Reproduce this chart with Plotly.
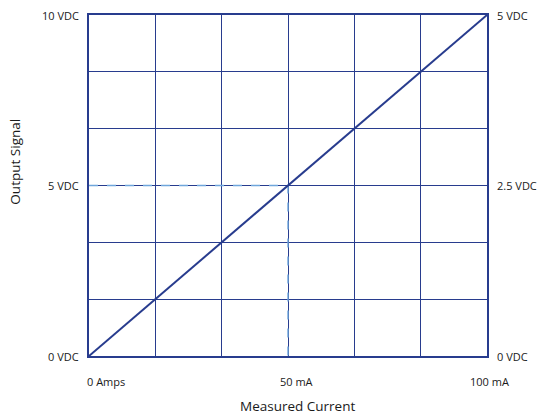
import plotly.graph_objects as go

# Data
current_ma = [0, 100]
output_vdc = [0, 10]
ref_x = [0, 50, 50]
ref_y = [5, 5, 0]
x_tick_vals = [0, 50, 100]
x_tick_text = ["0 Amps", "50 mA", "100 mA"]
left_tick_vals = [0, 5, 10]
left_tick_text = ["0 VDC", "5 VDC", "10 VDC"]
right_tick_text = ["0 VDC", "2.5 VDC", "5 VDC"]

NAVY = "#283c8e"
FONT = "Open Sans"

fig = go.Figure()
fig.add_trace(go.Scatter(x=ref_x, y=ref_y, mode="lines",
                         line=dict(color="#6fa6dc", width=1.4, dash="dash"),
                         hoverinfo="skip", showlegend=False))
fig.add_trace(go.Scatter(x=current_ma, y=output_vdc, mode="lines",
                         line=dict(color=NAVY, width=2), showlegend=False))

fig.update_xaxes(range=[0, 100], dtick=100/6, tick0=0, tickmode="linear",
                 showticklabels=False, ticks="",
                 showgrid=True, gridcolor=NAVY, gridwidth=1,
                 showline=True, linecolor=NAVY, linewidth=2, mirror=True,
                 zeroline=False)
fig.update_yaxes(range=[0, 10], dtick=10/6, tick0=0, tickmode="linear",
                 showticklabels=False, ticks="",
                 showgrid=True, gridcolor=NAVY, gridwidth=1,
                 showline=True, linecolor=NAVY, linewidth=2, mirror=True,
                 zeroline=False)

annotations = []
xshifts = [-4, 8, 2]
for v, t, s in zip(x_tick_vals, x_tick_text, xshifts):
    annotations.append(dict(x=v, y=0, xref="x", yref="y", text=t, showarrow=False,
                            xanchor="left" if v == 0 else "center", yanchor="middle",
                            yshift=-25, xshift=s,
                            font=dict(family=FONT, size=11, color="#1a1a1a")))
for v, t in zip(left_tick_vals, left_tick_text):
    annotations.append(dict(x=0, y=v, xref="x", yref="y", text=t, showarrow=False,
                            xanchor="right", yanchor="middle", xshift=-8,
                            font=dict(family=FONT, size=11, color="#1a1a1a")))
for v, t in zip(left_tick_vals, right_tick_text):
    annotations.append(dict(x=100, y=v, xref="x", yref="y", text=t, showarrow=False,
                            xanchor="left", yanchor="middle", xshift=8,
                            font=dict(family=FONT, size=11, color="#1a1a1a")))
annotations.append(dict(x=52.5, y=0, xref="x", yref="y", text="Measured Current",
                        showarrow=False, xanchor="center", yanchor="middle", yshift=-50,
                        font=dict(family=FONT, size=13.5, color="#1a1a1a")))
annotations.append(dict(x=0, y=5.7, xref="x", yref="y", text="Output Signal",
                        showarrow=False, textangle=-90, xanchor="center", yanchor="middle",
                        xshift=-74, font=dict(family=FONT, size=13.5, color="#1a1a1a")))

fig.update_layout(width=539, height=414,
                  margin=dict(l=89, r=52, t=15, b=58),
                  plot_bgcolor="white", paper_bgcolor="white",
                  annotations=annotations)

fig.write_html("out.html", config={"displayModeBar": False},
               post_script="document.body.style.margin='0';document.body.style.overflow='hidden';")
